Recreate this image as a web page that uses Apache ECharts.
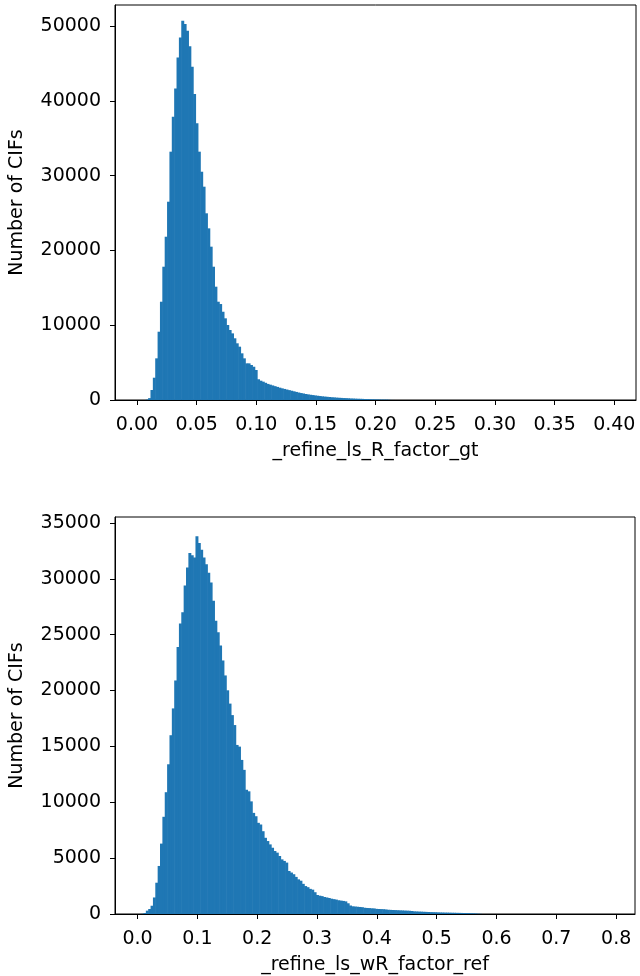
<!DOCTYPE html>
<html>
<head>
<meta charset="utf-8">
<script src="https://cdn.jsdelivr.net/npm/echarts@6.0.0/dist/echarts.min.js"></script>
<style>
html,body{margin:0;padding:0;background:#fff;}
#chart{width:640px;height:976px;}
</style>
</head>
<body>
<div id="chart"></div>
<script>
// ---- Top histogram: _refine_ls_R_factor_gt ----
const rBinStart = 0.0014;
const rBinWidth = 0.001985;
const rCounts = [
  0, 0, 0, 60, 250, 1340, 2980, 5570, 9130, 13140,
  17820, 21830, 26510, 33200, 37870, 41660, 45800, 48480, 50700, 50270,
  49370, 47300, 44560, 40900, 36990, 33200, 30520, 28520, 24960, 22950,
  20500, 17820, 15150, 13140, 12830, 11800, 10920, 10030, 9360, 8910,
  8250, 7580, 7130, 6240, 5570, 4900, 4900, 4680, 4450, 4010,
  2770, 2580, 2450, 2300, 2150, 2050, 1950, 1850, 1750, 1650,
  1560, 1480, 1400, 1320, 1240, 1160, 1080, 1000, 930, 870,
  800, 750, 700, 660, 610, 570, 530, 490, 460, 430,
  400, 370, 350, 320, 300, 280, 260, 250, 230, 210,
  200, 180, 170, 160, 150, 130, 120, 110, 100, 90,
  80, 70, 60, 60, 50, 40, 10, 5
];
const rXTicks = [0, 0.05, 0.10, 0.15, 0.20, 0.25, 0.30, 0.35, 0.40];
const rYTicks = [0, 10000, 20000, 30000, 40000, 50000];

// ---- Bottom histogram: _refine_ls_wR_factor_ref ----
const wrBinStart = 0.002;
const wrBinWidth = 0.00395;
const wrCounts = [
  0, 20, 90, 300, 450, 740, 1480, 2800, 4300, 6300,
  8700, 10900, 13400, 16000, 18400, 20900, 23900, 26000, 27000, 29400,
  31000, 32300, 32100, 31900, 33800, 33200, 32600, 31900, 31300, 30550,
  29660, 28030, 26250, 25210, 24020, 22690, 21350, 20020, 18830, 17800,
  16910, 15130, 14980, 13790, 12900, 11120, 10980, 10080, 9050, 8750,
  8160, 8010, 7410, 6820, 6530, 6230, 5930, 5640, 5490, 5190,
  4890, 4750, 4600, 3850, 3710, 3560, 3320, 3100, 2980, 2700,
  2500, 2400, 2250, 2180, 1950, 1700, 1640, 1600, 1520, 1480,
  1430, 1370, 1330, 1290, 1230, 1200, 1170, 1130, 960, 760,
  690, 670, 650, 630, 610, 560, 540, 530, 510, 500,
  460, 450, 440, 430, 410, 380, 370, 360, 350, 340,
  330, 320, 310, 300, 290, 270, 240, 230, 220, 210,
  200, 190, 180, 170, 165, 160, 150, 140, 135, 130,
  125, 120, 115, 110, 105, 100, 95, 90, 85, 80,
  70, 60, 50, 30, 15
];
const wrXTicks = [0, 0.1, 0.2, 0.3, 0.4, 0.5, 0.6, 0.7, 0.8];
const wrYTicks = [0, 5000, 10000, 15000, 20000, 25000, 30000, 35000];

const BAR = '#1f77b4';
const FONT = 'DejaVu Sans';

function toBins(start, width, counts) {
  return counts.map((c, i) => [start + i * width, start + (i + 1) * width, c]);
}

function renderItem(params, api) {
  const a = api.coord([api.value(0), api.value(2)]);
  const b = api.coord([api.value(1), 0]);
  // slight overlap to the right avoids anti-aliasing seams between adjacent bins
  return {
    type: 'rect',
    shape: { x: a[0], y: a[1], width: b[0] - a[0] + 0.6, height: b[1] - a[1] },
    style: { fill: BAR }
  };
}

function xAxis(gi, min, max, ticks, dec, name) {
  return {
    type: 'value', gridIndex: gi, min: min, max: max,
    splitLine: { show: false },
    axisLine: { show: true, onZero: false, lineStyle: { color: '#000', width: 1 } },
    axisTick: { show: true, customValues: ticks, length: 5, lineStyle: { color: '#000', width: 1 } },
    axisLabel: { customValues: ticks, formatter: v => v.toFixed(dec), fontSize: 19, color: '#000', fontFamily: FONT, margin: 16 },
    name: name, nameLocation: 'middle', nameGap: 42,
    nameTextStyle: { fontSize: 19, color: '#000', fontFamily: FONT }
  };
}
function yAxis(gi, max, ticks) {
  return {
    type: 'value', gridIndex: gi, min: 0, max: max,
    splitLine: { show: false },
    axisLine: { show: true, onZero: false, lineStyle: { color: '#000', width: 1 } },
    axisTick: { show: true, customValues: ticks, length: 5, lineStyle: { color: '#000', width: 1 } },
    axisLabel: { customValues: ticks, formatter: v => String(v), fontSize: 19, color: '#000', fontFamily: FONT, margin: 14 },
    name: 'Number of CIFs', nameLocation: 'middle', nameGap: 88, nameRotate: 90,
    nameTextStyle: { fontSize: 19, color: '#000', fontFamily: FONT }
  };
}

const chart = echarts.init(document.getElementById('chart'), null, { renderer: 'canvas' });
chart.setOption({
  animation: false,
  backgroundColor: '#fff',
  grid: [
    { left: 103, top: 5, width: 533, height: 395, show: true, borderColor: '#000', borderWidth: 1, backgroundColor: 'transparent' },
    { left: 103, top: 517, width: 532, height: 400, show: true, borderColor: '#000', borderWidth: 1, backgroundColor: 'transparent' }
  ],
  xAxis: [
    xAxis(0, -0.0184, 0.4182, rXTicks, 2, '_refine_ls_R_factor_gt'),
    xAxis(1, -0.0377, 0.8315, wrXTicks, 1, '_refine_ls_wR_factor_ref')
  ],
  yAxis: [
    yAxis(0, 52810, rYTicks),
    yAxis(1, 35530, wrYTicks)
  ],
  series: [
    {
      type: 'custom', xAxisIndex: 0, yAxisIndex: 0, clip: true,
      renderItem: renderItem, encode: { x: [0, 1], y: 2 },
      data: toBins(rBinStart, rBinWidth, rCounts)
    },
    {
      type: 'custom', xAxisIndex: 1, yAxisIndex: 1, clip: true,
      renderItem: renderItem, encode: { x: [0, 1], y: 2 },
      data: toBins(wrBinStart, wrBinWidth, wrCounts)
    }
  ]
});
</script>
</body>
</html>
